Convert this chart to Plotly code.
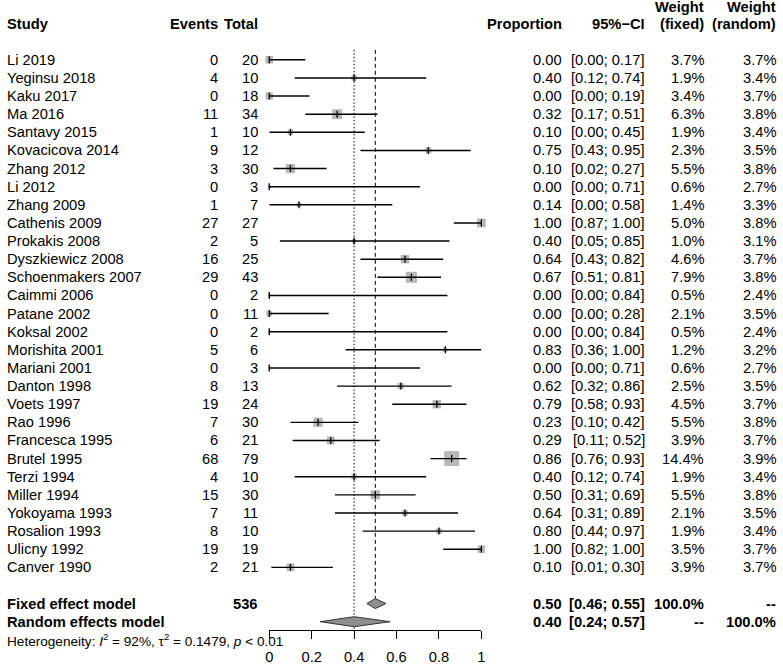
import plotly.graph_objects as go
import math

studies = ["Li 2019", "Yeginsu 2018", "Kaku 2017", "Ma 2016", "Santavy 2015", "Kovacicova 2014",
           "Zhang 2012", "Li 2012", "Zhang 2009", "Cathenis 2009", "Prokakis 2008", "Dyszkiewicz 2008",
           "Schoenmakers 2007", "Caimmi 2006", "Patane 2002", "Koksal 2002", "Morishita 2001",
           "Mariani 2001", "Danton 1998", "Voets 1997", "Rao 1996", "Francesca 1995", "Brutel 1995",
           "Terzi 1994", "Miller 1994", "Yokoyama 1993", "Rosalion 1993", "Ulicny 1992", "Canver 1990"]
events = [0, 4, 0, 11, 1, 9, 3, 0, 1, 27, 2, 16, 29, 0, 0, 0, 5, 0, 8, 19, 7, 6, 68, 4, 15, 7, 8, 19, 2]
totals = [20, 10, 18, 34, 10, 12, 30, 3, 7, 27, 5, 25, 43, 2, 11, 2, 6, 3, 13, 24, 30, 21, 79, 10, 30, 11, 10, 19, 21]
prop = [0.00, 0.40, 0.00, 0.32, 0.10, 0.75, 0.10, 0.00, 0.14, 1.00, 0.40, 0.64, 0.67, 0.00, 0.00, 0.00,
        0.83, 0.00, 0.62, 0.79, 0.23, 0.29, 0.86, 0.40, 0.50, 0.64, 0.80, 1.00, 0.10]
ci_lo = [0.00, 0.12, 0.00, 0.17, 0.00, 0.43, 0.02, 0.00, 0.00, 0.87, 0.05, 0.43, 0.51, 0.00, 0.00, 0.00,
         0.36, 0.00, 0.32, 0.58, 0.10, 0.11, 0.76, 0.12, 0.31, 0.31, 0.44, 0.82, 0.01]
ci_hi = [0.17, 0.74, 0.19, 0.51, 0.45, 0.95, 0.27, 0.71, 0.58, 1.00, 0.85, 0.82, 0.81, 0.84, 0.28, 0.84,
         1.00, 0.71, 0.86, 0.93, 0.42, 0.52, 0.93, 0.74, 0.69, 0.89, 0.97, 1.00, 0.30]
w_fixed = [3.7, 1.9, 3.4, 6.3, 1.9, 2.3, 5.5, 0.6, 1.4, 5.0, 1.0, 4.6, 7.9, 0.5, 2.1, 0.5, 1.2, 0.6, 2.5,
           4.5, 5.5, 3.9, 14.4, 1.9, 5.5, 2.1, 1.9, 3.5, 3.9]
w_random = [3.7, 3.4, 3.7, 3.8, 3.4, 3.5, 3.8, 2.7, 3.3, 3.8, 3.1, 3.7, 3.8, 2.4, 3.5, 2.4, 3.2, 2.7, 3.5,
            3.7, 3.8, 3.7, 3.9, 3.4, 3.8, 3.5, 3.4, 3.7, 3.7]

total_n = 536
fixed_est, fixed_lo, fixed_hi = 0.50, 0.46, 0.55
random_est, random_lo, random_hi = 0.40, 0.24, 0.57
het_i2, het_tau2, het_p = "92%", "0.1479", "&lt; 0.01"
x_ticks = [0, 0.2, 0.4, 0.6, 0.8, 1]
x_ticktext = ["0", "0.2", "0.4", "0.6", "0.8", "1"]

W, H = 783, 665
FONT = "Liberation Sans, Arial, Helvetica, sans-serif"
FS = 14.7
n = len(studies)
rows = list(range(1, n + 1))
r_fixed = n + 2
r_random = n + 3
r_het = n + 4
row_px0 = 60.0
row_step = 18.18
def px_to_row(p):
    return (p - row_px0) / row_step + 1

y_top = px_to_row(0)
y_bot = px_to_row(H)
r_axis = px_to_row(632)
r_head1 = px_to_row(7.5)
r_head2 = -1
dh = 5.0 / row_step  # diamond half height

fig = go.Figure()

# reference lines
fig.add_trace(go.Scatter(x=[random_est, random_est], y=[0.45, r_axis], mode="lines",
                         line=dict(color="black", width=1, dash="1.5px,2px"), hoverinfo="skip", showlegend=False))
fig.add_trace(go.Scatter(x=[fixed_est, fixed_est], y=[0.45, r_fixed - dh], mode="lines",
                         line=dict(color="black", width=1, dash="4px,3px"), hoverinfo="skip", showlegend=False))

# squares
fig.add_trace(go.Scatter(x=prop, y=rows, mode="markers", cliponaxis=False,
                         marker=dict(symbol="square", size=[3.95 * math.sqrt(w) for w in w_fixed],
                                     color="#9a9a9a", line=dict(width=0)),
                         hoverinfo="skip", showlegend=False))
# CI lines
cx, cy = [], []
for lo, hi, r in zip(ci_lo, ci_hi, rows):
    cx += [lo, hi, None]
    cy += [r, r, None]
fig.add_trace(go.Scatter(x=cx, y=cy, mode="lines", line=dict(color="black", width=1.4),
                         hoverinfo="skip", showlegend=False))
# center ticks
fig.add_trace(go.Scatter(x=prop, y=rows, mode="markers", cliponaxis=False,
                         marker=dict(symbol="line-ns", size=5, line=dict(color="black", width=1.3)),
                         hoverinfo="skip", showlegend=False))
# diamonds
for est, lo, hi, r in [(fixed_est, fixed_lo, fixed_hi, r_fixed), (random_est, random_lo, random_hi, r_random)]:
    fig.add_trace(go.Scatter(x=[lo, est, hi, est, lo], y=[r, r - dh, r, r + dh, r], mode="lines",
                             fill="toself", fillcolor="#8f8f8f", line=dict(color="#333333", width=1),
                             hoverinfo="skip", showlegend=False))

ann = []
def txt(xpx, r, s, anchor="right", bold=False, size=FS):
    if bold:
        s = "<b>" + s + "</b>"
    ann.append(dict(x=xpx / W, xref="paper", y=r, yref="y", text=s, showarrow=False,
                    xanchor=anchor, yanchor="middle", font=dict(family=FONT, size=size, color="black")))

X_STUDY, X_EV, X_TOT, X_PROP, X_CI, X_WF, X_WR = 1, 218, 259, 566, 650, 709, 782

# header
txt(X_STUDY, r_head2, "Study", "left", True)
txt(X_EV, r_head2, "Events", bold=True)
txt(X_TOT, r_head2, "Total", bold=True)
txt(X_PROP, r_head2, "Proportion", bold=True)
txt(X_CI, r_head2, "95%\u2212CI", bold=True)
txt(X_WF, r_head1, "Weight", bold=True)
txt(X_WF, r_head2, "(fixed)", bold=True)
txt(X_WR, r_head1, "Weight", bold=True)
txt(X_WR, r_head2, "(random)", bold=True)

for i, r in enumerate(rows):
    txt(X_STUDY, r, studies[i], "left")
    txt(X_EV, r, str(events[i]))
    txt(X_TOT, r, str(totals[i]))
    txt(X_PROP, r, f"{prop[i]:.2f}")
    txt(X_CI, r, f"[{ci_lo[i]:.2f}; {ci_hi[i]:.2f}]")
    txt(X_WF, r, f"{w_fixed[i]:.1f}%")
    txt(X_WR, r, f"{w_random[i]:.1f}%")

txt(X_STUDY, r_fixed, "Fixed effect model", "left", True)
txt(X_TOT, r_fixed, str(total_n), bold=True)
txt(X_PROP, r_fixed, f"{fixed_est:.2f}", bold=True)
txt(X_CI, r_fixed, f"[{fixed_lo:.2f}; {fixed_hi:.2f}]", bold=True)
txt(X_WF, r_fixed, "100.0%", bold=True)
txt(X_WR, r_fixed, "--", bold=True)

txt(X_STUDY, r_random, "Random effects model", "left", True)
txt(X_PROP, r_random, f"{random_est:.2f}", bold=True)
txt(X_CI, r_random, f"[{random_lo:.2f}; {random_hi:.2f}]", bold=True)
txt(X_WF, r_random, "--", bold=True)
txt(X_WR, r_random, "100.0%", bold=True)

txt(X_STUDY, r_het, f"Heterogeneity: <i>I</i><sup>2</sup> = {het_i2}, \u03c4<sup>2</sup> = {het_tau2}, <i>p</i> {het_p}",
    "left", size=13.6)

fig.update_layout(
    width=W, height=H, margin=dict(l=0, r=0, t=0, b=0),
    plot_bgcolor="white", paper_bgcolor="white", showlegend=False,
    annotations=ann,
    xaxis=dict(domain=[268 / W, 482.3 / W], range=[0, 1], showgrid=False, zeroline=False,
               showline=True, linecolor="black", linewidth=1, ticks="outside", ticklen=8,
               tickwidth=1, tickcolor="black", tickvals=x_ticks, ticktext=x_ticktext,
               tickfont=dict(family=FONT, size=FS, color="black"), ticklabelstandoff=5,
               anchor="free", position=1 - 632 / H),
    yaxis=dict(domain=[0, 1], range=[y_bot, y_top], visible=False, showgrid=False, zeroline=False),
)

fig.write_html("out.html", config={"displayModeBar": False},
               post_script="document.body.style.margin='0';document.body.style.overflow='hidden';")
